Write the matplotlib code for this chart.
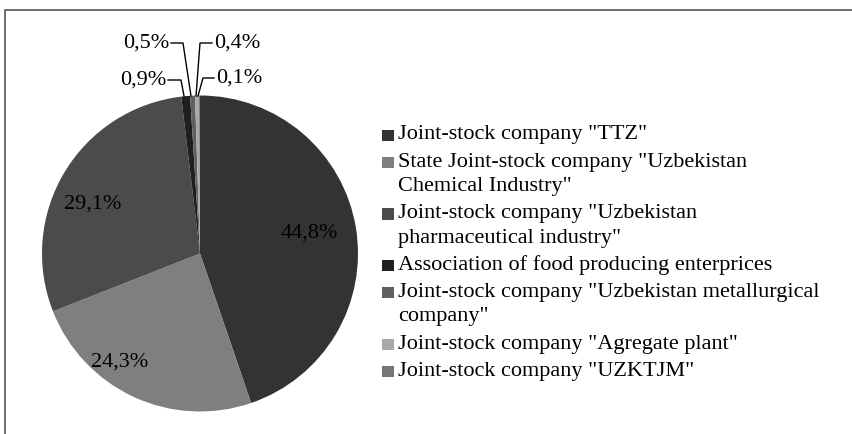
import numpy as np
import matplotlib.pyplot as plt
from matplotlib.patches import Rectangle

plt.rcParams['font.family'] = ['Liberation Serif', 'DejaVu Serif']

# shares of enterprises, %
companies = [
    'Joint-stock company "TTZ"',
    'State Joint-stock company "Uzbekistan\nChemical Industry"',
    'Joint-stock company "Uzbekistan\npharmaceutical industry"',
    'Association of food producing enterprices',
    'Joint-stock company "Uzbekistan metallurgical\ncompany"',
    'Joint-stock company "Agregate plant"',
    'Joint-stock company "UZKTJM"',
]
shares = [44.8, 24.3, 29.1, 0.9, 0.5, 0.4, 0.1]
labels = ['44,8%', '24,3%', '29,1%', '0,9%', '0,5%', '0,4%', '0,1%']
colors = ['#333333', '#7f7f7f', '#4b4b4b', '#1f1f1f', '#606060', '#a8a8a8', '#767676']

W, H = 852, 434
cx, cy, R = 200, 253.5, 158  # pie centre / radius in pixels
FS = 16


def px(x, y):
    # pixel coords -> data coords (pie radius = 1)
    return (x - cx) / R, (cy - y) / R


fig = plt.figure(figsize=(W / 100, H / 100), dpi=100)
ax = fig.add_axes([0, 0, 1, 1])
wedges, _ = ax.pie(shares, colors=colors, startangle=90, counterclock=False,
                   wedgeprops=dict(linewidth=0))
ax.set_xlim(-cx / R, (W - cx) / R)
ax.set_ylim((cy - H) / R, cy / R)
ax.set_aspect('auto')
ax.axis('off')

# labels inside the big slices
inside = {0: (309, 233), 1: (120, 362), 2: (93, 204)}
for i, (x, y) in inside.items():
    ax.text(*px(x, y), labels[i], ha='center', va='center', fontsize=FS, color='black')

# small slices: text, elbow, point on the slice edge
outside = {
    3: ((168, 80), (181, 80), (184, 96), 'right'),
    4: ((171, 43), (183, 43), (191, 96), 'right'),
    5: ((212, 43), (200, 43), (196, 96), 'left'),
    6: ((214, 78), (203, 78), (198, 96), 'left'),
}
for i, (t, e, p, ha) in outside.items():
    xs, ys = zip(px(*t), px(*e), px(*p))
    ax.plot(xs, ys, color='black', lw=1)
    tx, ty = px(t[0] + (-2 if ha == 'right' else 2), t[1])
    ax.text(tx, ty, labels[i], ha=ha, va='center', fontsize=FS, color='black')

# legend drawn by hand so the square sits on the first line of each entry
ly = 135
line_step = 24.5   # between wrapped lines of one entry
entry_step = 27.1  # between entries
for name, col in zip(companies, colors):
    lines = name.split('\n')
    fig.patches.append(Rectangle((382 / W, 1 - (ly + 6) / H), 11.5 / W, 11.5 / H,
                                 transform=fig.transFigure, facecolor=col,
                                 edgecolor='none'))
    for k, ln in enumerate(lines):
        fig.text(398 / W, 1 - (ly + k * line_step) / H, ln, ha='left',
                 va='center', fontsize=FS, color='black')
    ly += (len(lines) - 1) * line_step + entry_step

# outer frame (only top and left edges are visible)
fig.patches.append(Rectangle((5 / W, -0.1), 1.2, 1 - 10 / H + 0.1,
                             transform=fig.transFigure, fill=False,
                             edgecolor='#555555', lw=1.2))

fig.savefig('out.png', dpi=100)
